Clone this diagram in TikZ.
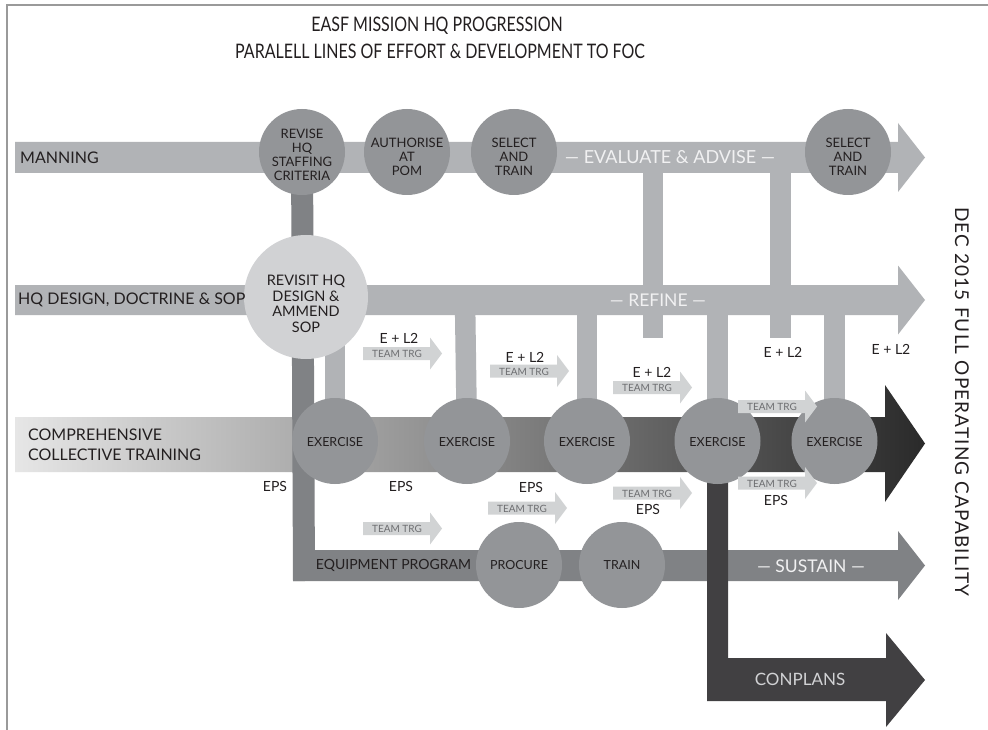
\documentclass[tikz,border=0pt]{standalone}
\usepackage{fontspec}
\setmainfont{Lato}
\newfontfamily\condfont[FakeStretch=0.8]{Lato}
\newfontfamily\spacedfont[LetterSpace=6]{Lato}
\definecolor{barlight}{HTML}{B1B3B6}
\definecolor{cgray}{HTML}{939598}
\definecolor{clight}{HTML}{D1D2D4}
\definecolor{eqgray}{HTML}{808285}
\definecolor{cdark}{HTML}{414042}
\definecolor{ttfill}{HTML}{D1D3D4}
\definecolor{tttext}{HTML}{6D6E71}
\definecolor{ink}{HTML}{231F20}
\definecolor{pale}{HTML}{F1F1F2}
\definecolor{framegray}{HTML}{9A9A9A}
\definecolor{shA}{HTML}{E6E6E6}
\definecolor{shB}{HTML}{8A8A8A}
\definecolor{shC}{HTML}{2A2A2A}
\tikzset{
  vlight/.style={draw=barlight, line width=20.5pt},
  vdark/.style={draw=eqgray, line width=22pt},
  circ/.style={circle, fill=cgray, minimum size=86pt, inner sep=0pt},
  bigcirc/.style={circle, fill=clight, minimum size=124pt, inner sep=0pt},
  ctext/.style={align=center, text=ink, inner sep=0pt, font=\fontsize{13}{14}\selectfont},
  bartext/.style={text=ink, inner sep=0pt, font=\fontsize{16}{20}\selectfont},
  paletext/.style={text=pale, inner sep=0pt, font=\fontsize{17.5}{20}\selectfont},
  smalllbl/.style={text=ink, inner sep=0pt, font=\fontsize{14}{16}\selectfont},
  tttxt/.style={text=tttext, inner sep=0pt, font=\fontsize{10}{12}\selectfont},
  titletext/.style={text=ink, inner sep=0pt, font=\condfont\fontsize{20}{22}\selectfont},
}
\newcommand\ttarrow[3]{%
  \fill[ttfill] (#2,#3-6.5) -- (#2+67,#3-6.5) -- (#2+67,#3-16) -- (#2+79,#3) -- (#2+67,#3+16) -- (#2+67,#3+6.5) -- (#2,#3+6.5) -- cycle;
  \node[tttxt] (#1) at (#2+34,#3+0.5) {TEAM TRG};}
\begin{document}
\begin{tikzpicture}[x=1pt,y=-1pt]
\useasboundingbox (0,0) rectangle (988,730);
\fill[white] (0,0) rectangle (988,730);
\draw[framegray, line width=2pt] (7,730) -- (7,5) -- (988,5);

% titles
\node[titletext] (t1) at (437,26) {EASF MISSION HQ PROGRESSION};
\node[titletext] (t2) at (440,51) {PARALELL LINES OF EFFORT \& DEVELOPMENT TO FOC};

% coordinates
\coordinate (revC) at (302,152);
\coordinate (autC) at (407,152);
\coordinate (sel1C) at (514,152);
\coordinate (sel2C) at (848,152);
\coordinate (revisitC) at (306,297);
\coordinate (ex1) at (335,441);
\coordinate (ex2) at (467,441);
\coordinate (ex3) at (587,441);
\coordinate (ex4) at (717.5,441);
\coordinate (ex5) at (834.5,441);
\coordinate (proC) at (519,565);
\coordinate (trnC) at (622,565);
\coordinate (h1) at (335,300);
\coordinate (h2) at (465,300);
\coordinate (h3) at (587,300);
\coordinate (h4) at (717.5,300);
\coordinate (h5) at (834.5,300);
\coordinate (m1) at (653,157);
\coordinate (m1e) at (653,338);
\coordinate (m2) at (780.5,157);
\coordinate (m2e) at (780.5,338);
\coordinate (eqcorner) at (304,581);

% manning and HQ bars
\fill[barlight] (15,142) -- (898,142) -- (898,123) -- (925,157.5) -- (898,192) -- (898,173) -- (15,173) -- cycle;
\fill[barlight] (15,285) -- (898,285) -- (898,265.5) -- (925,300) -- (898,334.5) -- (898,315) -- (15,315) -- cycle;
\draw[vlight] (m1) -- (m1e);
\draw[vlight] (m2) -- (m2e);

% comprehensive training bar
\shade[left color=shA, right color=shC, middle color=shB] (15,417) -- (885,417) -- (885,385) -- (925,443.5) -- (885,502) -- (885,472) -- (15,472) -- cycle;

% equipment bar
\fill[eqgray] (293,550) -- (898,550) -- (898,531) -- (925,565.5) -- (898,600) -- (898,581) -- (293,581) -- cycle;
\draw[vdark] (revC) -- (eqcorner);

% HQ to exercise connectors
\draw[vlight] (h1) -- (ex1);
\draw[vlight] (h2) -- (ex2);
\draw[vlight] (h3) -- (ex3);
\draw[vlight] (h4) -- (ex4);
\draw[vlight] (h5) -- (ex5);

% conplans
\fill[cdark] (707,441) -- (728,441) -- (728,658) -- (886,658) -- (886,633) -- (925,680) -- (886,727) -- (886,701) -- (707,701) -- cycle;

% circles
\node[circ] (rev) at (revC) {};
\node[circ] (aut) at (autC) {};
\node[circ] (sel1) at (sel1C) {};
\node[circ] (sel2) at (sel2C) {};
\node[bigcirc] (revisit) at (revisitC) {};
\foreach \i in {1,...,5} {\node[circ] (exc\i) at (ex\i) {};}
\node[circ] (pro) at (proC) {};
\node[circ] (trn) at (trnC) {};

\node[ctext] (revt) at (302,154.5) {REVISE\\HQ\\STAFFING\\CRITERIA};
\node[ctext] (autt) at (407,156.5) {AUTHORISE\\AT\\POM};
\node[ctext] (sel1t) at (514,156.5) {SELECT\\AND\\TRAIN};
\node[ctext] (sel2t) at (848,156.5) {SELECT\\AND\\TRAIN};
\node[ctext, font=\fontsize{14.5}{15.5}\selectfont] (revisitt) at (306,304) {REVISIT HQ\\DESIGN \&\\AMMEND\\SOP};
\foreach \i in {1,...,5} {\node[ctext, font=\fontsize{12.5}{14}\selectfont] (ext\i) at ([yshift=-1.5pt]ex\i) {EXERCISE};}
\node[ctext, font=\fontsize{12.5}{14}\selectfont] (prot) at (proC) {PROCURE};
\node[ctext, font=\fontsize{12.5}{14}\selectfont] (trnt) at (trnC) {TRAIN};

% team training arrows
\ttarrow{u1}{363}{353.5}
\ttarrow{u2}{490}{371}
\ttarrow{u3}{613}{387.5}
\ttarrow{u4}{738}{406.5}
\ttarrow{l1}{363}{528.5}
\ttarrow{l2}{488}{508}
\ttarrow{l3}{613}{493}
\ttarrow{l4}{738}{483}

% labels
\node[smalllbl] (el1) at (399,338) {E + L2};
\node[smalllbl] (el2) at (525,357) {E + L2};
\node[smalllbl] (el3) at (652,372) {E + L2};
\node[smalllbl] (el4) at (783,352) {E + L2};
\node[smalllbl] (el5) at (891,349) {E + L2};
\node[smalllbl] (eps1) at (275,486) {EPS};
\node[smalllbl] (eps2) at (401,486) {EPS};
\node[smalllbl] (eps3) at (531,487) {EPS};
\node[smalllbl] (eps4) at (648,509) {EPS};
\node[smalllbl] (eps5) at (776,500) {EPS};

% bar texts
\node[bartext, anchor=west] (mant) at (20,158) {MANNING};
\node[bartext, anchor=west] (hqt) at (18,300) {HQ DESIGN, DOCTRINE \& SOP};
\node[bartext, anchor=west, align=left, font=\fontsize{16}{20}\selectfont] (cct) at (28,445) {COMPREHENSIVE\\COLLECTIVE TRAINING};
\node[bartext, font=\fontsize{14}{16}\selectfont] (eqt) at (393.5,565.5) {EQUIPMENT PROGRAM};
\node[paletext, font=\fontsize{18}{20}\selectfont] (evt) at (670,157.5) {— EVALUATE \& ADVISE —};
\node[paletext] (reft) at (658,300) {— REFINE —};
\node[paletext] (sust) at (811,566) {— SUSTAIN —};
\node[paletext, text=clight, font=\fontsize{17}{20}\selectfont] (cont) at (800,679) {CONPLANS};

% FOC label
\node[text=ink, inner sep=0pt, rotate=-90, font=\spacedfont\fontsize{19}{20}\selectfont] (foc) at (962,402) {DEC 2015 FULL OPERATING CAPABILITY};
\end{tikzpicture}
\end{document}
